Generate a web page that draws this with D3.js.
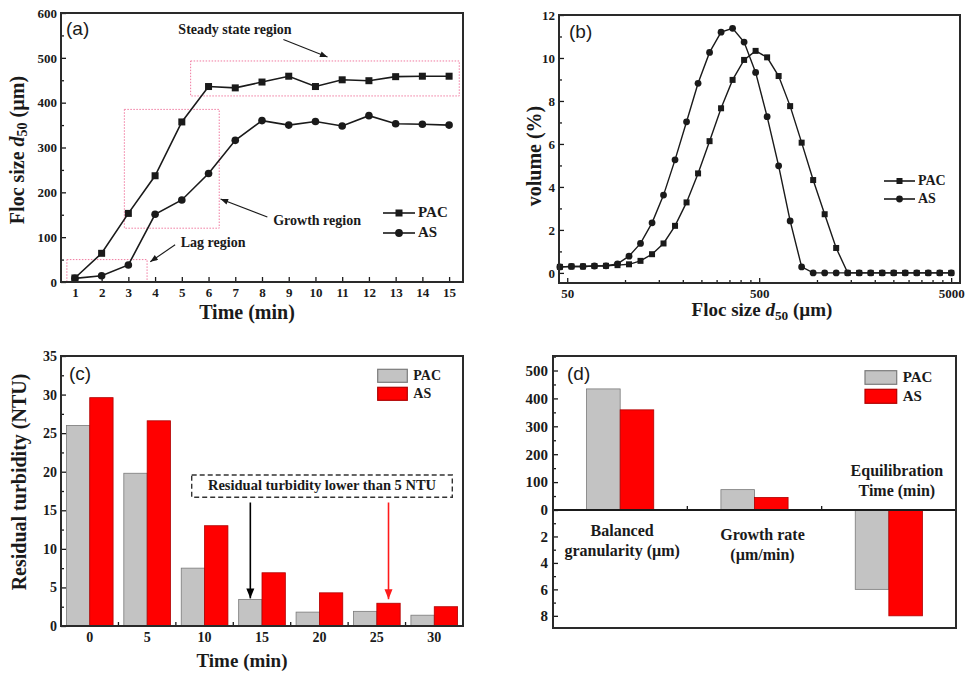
<!DOCTYPE html>
<html>
<head>
<meta charset="utf-8">
<script src="https://cdn.jsdelivr.net/npm/d3@7"></script>
<style>
body { margin: 0; background: #fff; }
svg { display: block; background: #fff; }
</style>
</head>
<body>
<svg id="svg1" width="966" height="674"></svg>
<script>
// ---- data ----
// (a) floc size d50 vs time
var timeA = [1, 2, 3, 4, 5, 6, 7, 8, 9, 10, 11, 12, 13, 14, 15];
var pacSizeA = [9, 64, 153, 237, 357, 436, 433, 446, 459, 436, 451, 449, 458, 459, 459];
var asSizeA = [8, 14, 38, 151, 183, 242, 316, 360, 350, 358, 348, 371, 353, 352, 350];
var yTicksA = [0, 100, 200, 300, 400, 500, 600];
var yMinorA = [50, 150, 250, 350, 450, 550];

// (b) size distribution
var flocSizeB = [45.8, 52.6, 60.4, 69.3, 79.6, 91.4, 104.9, 120.4, 138.3, 158.7, 182.2, 209.2, 240.2, 275.7,
    316.5, 363.4, 417.2, 479, 549.9, 631.3, 724.8, 832.1, 955.3, 1096.7, 1259, 1445.4, 1659.4, 1905,
    2187, 2511, 2882, 3309, 3799, 4361, 5007];
var pacVolumeB = [0.28, 0.3, 0.3, 0.32, 0.33, 0.36, 0.4, 0.56, 0.87, 1.37, 2.19, 3.28, 4.63, 6.13, 7.66, 8.98,
    9.91, 10.33, 10.03, 9.16, 7.76, 6.06, 4.32, 2.73, 1.16, 0, 0, 0, 0, 0, 0, 0, 0, 0, 0];
var asVolumeB = [0.28, 0.3, 0.3, 0.32, 0.33, 0.42, 0.78, 1.37, 2.33, 3.62, 5.26, 7.03, 8.82, 10.26, 11.2, 11.38,
    10.74, 9.33, 7.27, 4.98, 2.42, 0.28, 0, 0, 0, 0, 0, 0, 0, 0, 0, 0, 0, 0, 0];
var xTicksB = [50, 500, 5000];
var xMinorB = [100, 150, 200, 250, 300, 350, 400, 450, 1000, 1500, 2000, 2500, 3000, 3500, 4000, 4500];
var yTicksB = [0, 2, 4, 6, 8, 10, 12];
var yMinorB = [1, 3, 5, 7, 9, 11];

// (c) residual turbidity
var timeC = ['0', '5', '10', '15', '20', '25', '30'];
var pacTurbidityC = [26.0, 19.8, 7.5, 3.45, 1.8, 1.9, 1.4];
var asTurbidityC = [29.6, 26.6, 13.0, 6.9, 4.3, 2.95, 2.5];
var yTicksC = [0, 5, 10, 15, 20, 25, 30, 35];
var yMinorC = [2.5, 7.5, 12.5, 17.5, 22.5, 27.5, 32.5];

// (d) growth parameters
var paramLabelsD = [['Balanced', 'granularity (\u00b5m)'], ['Growth rate', '(\u00b5m/min)'], ['Equilibration', 'Time (min)']];
var pacParamD = [434, 73, 6];
var asParamD = [359, 45, 8];
var downwardD = [false, false, true];
var yTicksTopD = [0, 100, 200, 300, 400, 500];
var yMinorTopD = [50, 150, 250, 350, 450, 550];
var yTicksBotD = [2, 4, 6, 8];
var yMinorBotD = [1, 3, 5, 7];

var seriesNames = ['PAC', 'AS'];

// ---- setup ----
var serif = "'Liberation Serif', 'Times New Roman', serif";
var sans = "'Liberation Sans', Arial, sans-serif";
var ink = '#1a1a1a';
var greyFill = '#c3c3c3';
var redFill = '#ff0000';

var svg = d3.select('svg');
var defs = svg.append('defs');

function arrowMarker(id, color, w, h) {
    defs.append('marker')
        .attr('id', id)
        .attr('viewBox', '0 0 10 8')
        .attr('refX', 10).attr('refY', 4)
        .attr('markerWidth', w).attr('markerHeight', h)
        .attr('markerUnits', 'userSpaceOnUse')
        .attr('orient', 'auto')
        .append('path')
        .attr('d', 'M0,0L10,4L0,8z')
        .attr('fill', color);
}
arrowMarker('arrSmall', ink, 10, 6);
arrowMarker('arrBlack', '#000', 10, 9);
arrowMarker('arrRed', '#ff1a1a', 10, 9);

function styleAxis(g, size) {
    g.select('.domain').remove();
    g.attr('font-family', serif).attr('font-size', size).attr('font-weight', 'bold');
    g.selectAll('.tick line').attr('stroke', ink).attr('stroke-width', 1.3);
    g.selectAll('.tick text').attr('fill', ink);
}

function frame(g, x0, y0, x1, y1) {
    g.append('rect')
        .attr('x', x0).attr('y', y0)
        .attr('width', x1 - x0).attr('height', y1 - y0)
        .attr('fill', 'none')
        .attr('stroke', '#2a2a2a')
        .attr('stroke-width', 2);
}

function label(g, x, y, txt, size, anchor) {
    return g.append('text')
        .attr('x', x).attr('y', y)
        .attr('text-anchor', anchor || 'middle')
        .attr('dominant-baseline', 'middle')
        .attr('font-family', serif)
        .attr('font-weight', 'bold')
        .attr('font-size', size)
        .attr('fill', ink)
        .text(txt);
}

function tag(g, x, y, txt) {
    g.append('text')
        .attr('x', x).attr('y', y)
        .attr('dominant-baseline', 'middle')
        .attr('font-family', sans)
        .attr('font-size', 19)
        .attr('fill', ink)
        .text(txt);
}

// "Floc size d50 (um)" with italic d and subscript
function flocTitle(t) {
    t.append('tspan').text('Floc size ');
    t.append('tspan').attr('font-style', 'italic').text('d');
    t.append('tspan').attr('font-size', '70%').attr('dy', 5).text('50');
    t.append('tspan').attr('dy', -5).text(' (\u00b5m)');
}

function squares(g, data, xf, yf, side) {
    g.selectAll(null).data(data).enter().append('rect')
        .attr('x', function(d, i) { return xf(i) - side / 2; })
        .attr('y', function(d) { return yf(d) - side / 2; })
        .attr('width', side).attr('height', side)
        .attr('fill', ink);
}

function circles(g, data, xf, yf, r) {
    g.selectAll(null).data(data).enter().append('circle')
        .attr('cx', function(d, i) { return xf(i); })
        .attr('cy', function(d) { return yf(d); })
        .attr('r', r)
        .attr('fill', ink);
}

function lineLegend(g, x0, x1, y, name, isSquare, side, size) {
    g.append('line').attr('x1', x0).attr('x2', x1).attr('y1', y).attr('y2', y)
        .attr('stroke', ink).attr('stroke-width', 1.6);
    var cx = (x0 + x1) / 2;
    if (isSquare) {
        g.append('rect').attr('x', cx - side / 2).attr('y', y - side / 2)
            .attr('width', side).attr('height', side).attr('fill', ink);
    } else {
        g.append('circle').attr('cx', cx).attr('cy', y).attr('r', side / 2 + 0.4).attr('fill', ink);
    }
    label(g, x1 + 3, y + 1, name, size, 'start');
}

function boxLegend(g, x, y, w, h, fill, edge, name, size) {
    g.append('rect').attr('x', x).attr('y', y).attr('width', w).attr('height', h)
        .attr('fill', fill).attr('stroke', edge).attr('stroke-width', 1.2);
    label(g, x + w + 6, y + h / 2 + 1, name, size, 'start');
}

// ================= (a) =================
var gA = svg.append('g');
var xA = d3.scaleLinear().domain([0.48, 15.52]).range([61, 463]);
var yA = d3.scaleLinear().domain([0, 600]).range([282, 13]);

gA.append('g').attr('transform', 'translate(0,282)')
    .call(d3.axisBottom(xA).tickValues(timeA).tickSize(-5).tickPadding(6).tickFormat(d3.format('d')))
    .call(styleAxis, 13);
gA.append('g').attr('transform', 'translate(61,0)')
    .call(d3.axisLeft(yA).tickValues(yTicksA).tickSize(-5).tickPadding(4))
    .call(styleAxis, 13);
gA.append('g').attr('transform', 'translate(61,0)')
    .call(d3.axisLeft(yA).tickValues(yMinorA).tickSize(-3).tickFormat(''))
    .call(styleAxis, 13);

// region boxes (data coords)
var regionsA = [
    { x0: 0.7, x1: 3.7, y0: 0, y1: 50 },
    { x0: 2.85, x1: 6.4, y0: 120, y1: 385 },
    { x0: 5.33, x1: 15.38, y0: 415, y1: 493 }
];
gA.selectAll('.region').data(regionsA).enter().append('rect')
    .attr('x', function(d) { return xA(d.x0); })
    .attr('y', function(d) { return yA(d.y1); })
    .attr('width', function(d) { return xA(d.x1) - xA(d.x0); })
    .attr('height', function(d) { return yA(d.y0) - yA(d.y1); })
    .attr('fill', 'none')
    .attr('stroke', '#f07aa0')
    .attr('stroke-width', 1)
    .attr('stroke-dasharray', '1.5,1.5');

var notesA = [
    { text: 'Steady state region', tx: 6.99, ty: 560, ax0: 8.8, ay0: 541, ax1: 10.45, ay1: 502 },
    { text: 'Growth region', tx: 10.06, ty: 134, ax0: 8.2, ay0: 145, ax1: 6.45, ay1: 185 },
    { text: 'Lag region', tx: 6.17, ty: 85, ax0: 4.75, ay0: 83, ax1: 3.82, ay1: 45 }
];
notesA.forEach(function(n) {
    label(gA, xA(n.tx), yA(n.ty), n.text, 14);
    gA.append('line')
        .attr('x1', xA(n.ax0)).attr('y1', yA(n.ay0))
        .attr('x2', xA(n.ax1)).attr('y2', yA(n.ay1))
        .attr('stroke', ink).attr('stroke-width', 1.1)
        .attr('marker-end', 'url(#arrSmall)');
});

var lineA = d3.line()
    .x(function(d, i) { return xA(timeA[i]); })
    .y(function(d) { return yA(d); });
[pacSizeA, asSizeA].forEach(function(s) {
    gA.append('path').datum(s).attr('d', lineA)
        .attr('fill', 'none').attr('stroke', ink).attr('stroke-width', 1.6);
});
squares(gA, pacSizeA, function(i) { return xA(timeA[i]); }, yA, 7);
circles(gA, asSizeA, function(i) { return xA(timeA[i]); }, yA, 3.8);

lineLegend(gA, 383, 415, 213, seriesNames[0], true, 7, 15);
lineLegend(gA, 383, 415, 233, seriesNames[1], false, 7, 15);

frame(gA, 61, 13, 463, 282);
tag(gA, 66, 30, '(a)');

var tA = label(gA, 0, 0, '', 20).attr('transform', 'translate(19,150) rotate(-90)');
flocTitle(tA);
label(gA, 247, 314, 'Time (min)', 20);

// ================= (b) =================
var gB = svg.append('g');
var xB = d3.scaleLog().domain([45.3, 5560]).range([559, 960]);
var yB = d3.scaleLinear().domain([-0.47, 12]).range([283, 15]);

gB.append('g').attr('transform', 'translate(0,283)')
    .call(d3.axisBottom(xB).tickValues(xTicksB).tickSize(-5).tickPadding(6).tickFormat(d3.format('d')))
    .call(styleAxis, 13);
gB.append('g').attr('transform', 'translate(0,283)')
    .call(d3.axisBottom(xB).tickValues(xMinorB).tickSize(-3).tickFormat(''))
    .call(styleAxis, 13);
gB.append('g').attr('transform', 'translate(559,0)')
    .call(d3.axisLeft(yB).tickValues(yTicksB).tickSize(-5).tickPadding(4))
    .call(styleAxis, 13);
gB.append('g').attr('transform', 'translate(559,0)')
    .call(d3.axisLeft(yB).tickValues(yMinorB).tickSize(-3).tickFormat(''))
    .call(styleAxis, 13);

var lineB = d3.line()
    .x(function(d, i) { return xB(flocSizeB[i]); })
    .y(function(d) { return yB(d); });
[pacVolumeB, asVolumeB].forEach(function(s) {
    gB.append('path').datum(s).attr('d', lineB)
        .attr('fill', 'none').attr('stroke', ink).attr('stroke-width', 1.4);
});
squares(gB, pacVolumeB, function(i) { return xB(flocSizeB[i]); }, yB, 6);
circles(gB, asVolumeB, function(i) { return xB(flocSizeB[i]); }, yB, 3.4);

lineLegend(gB, 884, 915, 181, seriesNames[0], true, 6, 14);
lineLegend(gB, 884, 915, 199, seriesNames[1], false, 6, 14);

frame(gB, 559, 15, 960, 283);
tag(gB, 569, 33, '(b)');

label(gB, 0, 0, 'volume (%)', 20).attr('transform', 'translate(536,156) rotate(-90)');
var tB = label(gB, 762, 312, '', 19);
flocTitle(tB);

// ================= (c) =================
var gC = svg.append('g');
var xC = d3.scaleBand().domain(timeC).range([61, 463]).paddingInner(0.187).paddingOuter(0.094);
var subC = d3.scaleBand().domain(seriesNames).range([0, xC.bandwidth()]);
var yC = d3.scaleLinear().domain([0, 35]).range([626, 356]);

gC.append('g').attr('transform', 'translate(0,626)')
    .call(d3.axisBottom(xC).tickSize(0).tickPadding(6))
    .call(styleAxis, 14);
gC.append('g').attr('transform', 'translate(61,0)')
    .call(d3.axisLeft(yC).tickValues(yTicksC).tickSize(-5).tickPadding(4))
    .call(styleAxis, 14);
gC.append('g').attr('transform', 'translate(61,0)')
    .call(d3.axisLeft(yC).tickValues(yMinorC).tickSize(-3).tickFormat(''))
    .call(styleAxis, 14);
// ticks between the groups
gC.selectAll('.sep').data(timeC.slice(1)).enter().append('line')
    .attr('x1', function(d) { return xC(d) - xC.step() * xC.paddingInner() / 2; })
    .attr('x2', function(d) { return xC(d) - xC.step() * xC.paddingInner() / 2; })
    .attr('y1', 626).attr('y2', 622)
    .attr('stroke', ink).attr('stroke-width', 1.3);

var barsC = [
    { name: 'PAC', values: pacTurbidityC, fill: greyFill, edge: '#7a7a7a' },
    { name: 'AS', values: asTurbidityC, fill: redFill, edge: '#b00000' }
];
barsC.forEach(function(s) {
    gC.selectAll(null).data(s.values).enter().append('rect')
        .attr('x', function(d, i) { return xC(timeC[i]) + subC(s.name); })
        .attr('y', function(d) { return yC(d); })
        .attr('width', subC.bandwidth())
        .attr('height', function(d) { return yC(0) - yC(d); })
        .attr('fill', s.fill)
        .attr('stroke', s.edge)
        .attr('stroke-width', 0.8);
});

boxLegend(gC, 377.7, 369.3, 29.6, 13, greyFill, '#7a7a7a', seriesNames[0], 14);
boxLegend(gC, 377.7, 387.3, 29.6, 13, redFill, '#b00000', seriesNames[1], 14);

// annotation: dashed box and arrows
gC.append('rect')
    .attr('x', 191.7).attr('y', 475)
    .attr('width', 260.6).attr('height', 22.3)
    .attr('fill', 'none')
    .attr('stroke', '#333')
    .attr('stroke-width', 1.4)
    .attr('stroke-dasharray', '5,3');
label(gC, 322, 487, 'Residual turbidity lower than 5 NTU', 14.5);

var blackX = xC('15') + subC('PAC') + subC.bandwidth() / 2;
gC.append('line')
    .attr('x1', blackX).attr('x2', blackX)
    .attr('y1', 502.5).attr('y2', yC(pacTurbidityC[3]) - 1)
    .attr('stroke', '#000').attr('stroke-width', 1.6)
    .attr('marker-end', 'url(#arrBlack)');
var redX = xC('25') + subC('AS') + subC.bandwidth() / 2;
gC.append('line')
    .attr('x1', redX).attr('x2', redX)
    .attr('y1', 502.5).attr('y2', yC(asTurbidityC[5]) - 4)
    .attr('stroke', '#ff1a1a').attr('stroke-width', 1.6)
    .attr('marker-end', 'url(#arrRed)');

frame(gC, 61, 356, 463, 626);
tag(gC, 69, 375, '(c)');

label(gC, 0, 0, 'Residual turbidity (NTU)', 20).attr('transform', 'translate(21,482) rotate(-90)');
label(gC, 242, 663, 'Time (min)', 19);

// ================= (d) =================
var gD = svg.append('g');
var idxD = paramLabelsD.map(function(d, i) { return i; });
var xD = d3.scaleBand().domain(idxD).range([553, 956]).paddingInner(0.5).paddingOuter(0.25);
var subD = d3.scaleBand().domain(seriesNames).range([0, xD.bandwidth()]);
var yTopD = d3.scaleLinear().domain([0, 552]).range([510, 356]);
var yBotD = d3.scaleLinear().domain([0, 8.92]).range([510, 628]);

gD.append('g').attr('transform', 'translate(553,0)')
    .call(d3.axisLeft(yTopD).tickValues(yTicksTopD).tickSize(-5).tickPadding(5))
    .call(styleAxis, 15);
gD.append('g').attr('transform', 'translate(553,0)')
    .call(d3.axisLeft(yTopD).tickValues(yMinorTopD).tickSize(-3).tickFormat(''))
    .call(styleAxis, 15);
gD.append('g').attr('transform', 'translate(553,0)')
    .call(d3.axisLeft(yBotD).tickValues(yTicksBotD).tickSize(-5).tickPadding(5))
    .call(styleAxis, 15);
gD.append('g').attr('transform', 'translate(553,0)')
    .call(d3.axisLeft(yBotD).tickValues(yMinorBotD).tickSize(-3).tickFormat(''))
    .call(styleAxis, 15);

var barsD = [
    { name: 'PAC', values: pacParamD, fill: greyFill, edge: '#7a7a7a' },
    { name: 'AS', values: asParamD, fill: redFill, edge: '#b00000' }
];
barsD.forEach(function(s) {
    gD.selectAll(null).data(s.values).enter().append('rect')
        .attr('x', function(d, i) { return xD(i) + subD(s.name); })
        .attr('y', function(d, i) {
            var sc = downwardD[i] ? yBotD : yTopD;
            return Math.min(sc(0), sc(d));
        })
        .attr('width', subD.bandwidth())
        .attr('height', function(d, i) {
            var sc = downwardD[i] ? yBotD : yTopD;
            return Math.abs(sc(d) - sc(0));
        })
        .attr('fill', s.fill)
        .attr('stroke', s.edge)
        .attr('stroke-width', 0.8);
});

// zero line and group separators
gD.append('line')
    .attr('x1', 553).attr('x2', 956)
    .attr('y1', yTopD(0)).attr('y2', yTopD(0))
    .attr('stroke', ink).attr('stroke-width', 2);
gD.selectAll('.sep').data(idxD.slice(1)).enter().append('line')
    .attr('x1', function(d) { return xD(d) - xD.step() * xD.paddingInner() / 2; })
    .attr('x2', function(d) { return xD(d) - xD.step() * xD.paddingInner() / 2; })
    .attr('y1', yTopD(0)).attr('y2', yTopD(0) - 4)
    .attr('stroke', ink).attr('stroke-width', 1.3);

var labelShiftD = [2, 8, 8];
var labelDyD = [22, 26, -38];
paramLabelsD.forEach(function(lines, i) {
    var cx = xD(i) + xD.bandwidth() / 2 + labelShiftD[i];
    lines.forEach(function(t, k) {
        label(gD, cx, yTopD(0) + labelDyD[i] + k * 20.5, t, 16);
    });
});

boxLegend(gD, 865, 370.7, 31.7, 13.6, greyFill, '#7a7a7a', seriesNames[0], 15);
boxLegend(gD, 865, 389.3, 31.7, 14, redFill, '#b00000', seriesNames[1], 15);

frame(gD, 553, 356, 956, 628);
tag(gD, 567, 375, '(d)');
</script>
</body>
</html>
